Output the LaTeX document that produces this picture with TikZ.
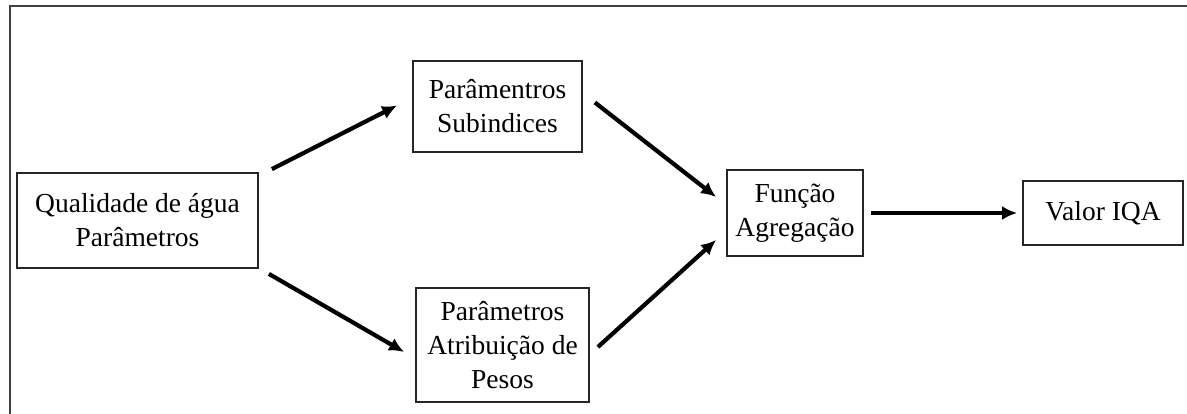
\documentclass[tikz,border=0pt]{standalone}
\usepackage{fontspec}
\setmainfont{Liberation Serif}
\usetikzlibrary{positioning, arrows.meta}

\begin{document}
\begin{tikzpicture}[
    x=1pt, y=-1pt,
    box/.style={rectangle, draw=black!85, line width=1.8pt, align=center, inner sep=0pt, font=\fontsize{27.5}{34}\selectfont},
    arrow/.style={-{Latex[length=15pt, width=14pt]}, line width=4.2pt, draw=black}
]
    \useasboundingbox (0,0) rectangle (1187,414);
    \draw[line width=2pt, draw=black!75] (10,414) -- (10,6) -- (1187,6);

    \node (qual) at (137.5, 220.5) [box, minimum width=241pt, minimum height=95pt] {Qualidade de água\\Parâmetros};
    \node (subind) at (497.5, 106.5) [box, minimum width=169pt, minimum height=91pt] {Parâmentros\\Subindices};
    \node (pesos) at (502.5, 345) [box, minimum width=173pt, minimum height=114pt] {Parâmetros\\Atribuição de\\Pesos};
    \node (funcao) at (795, 213) [box, minimum width=136pt, minimum height=86pt] {Função\\Agregação};
    \node (valor) at (1103, 213) [box, minimum width=160pt, minimum height=64pt] {Valor IQA};

    \draw[arrow] ([xshift=13pt, yshift=3pt]qual.north east) -- ([xshift=-15pt, yshift=1pt]subind.west);
    \draw[arrow] ([xshift=10pt, yshift=-5pt]qual.south east) -- ([xshift=-11pt, yshift=-7pt]pesos.west);
    \draw[arrow] ([xshift=12pt, yshift=4pt]subind.east) -- ([xshift=-10pt, yshift=16pt]funcao.west);
    \draw[arrow] ([xshift=8pt, yshift=-2pt]pesos.east) -- ([xshift=-10pt, yshift=-27pt]funcao.west);
    \draw[arrow, shorten <=7pt, shorten >=5pt] (funcao.east) -- (valor.west);

\end{tikzpicture}
\end{document}
